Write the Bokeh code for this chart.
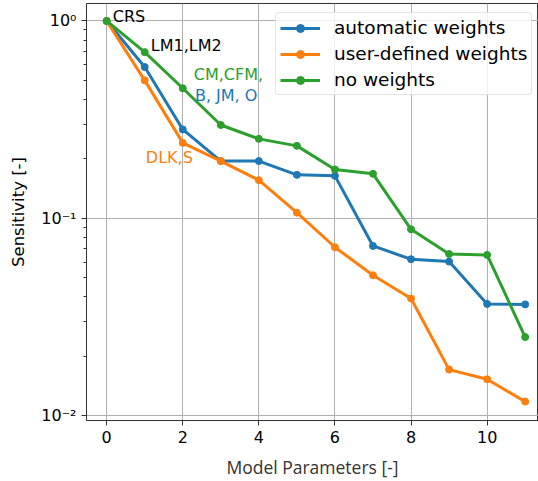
from bokeh.plotting import figure
from bokeh.models import Range1d, LogTicker, FixedTicker, CustomJSTickFormatter, Legend, LegendItem
from bokeh.embed import file_html
from bokeh.resources import INLINE
from bokeh.core.properties import value

params = list(range(12))
automatic = [1.0, 0.584, 0.282, 0.195, 0.195, 0.166, 0.164, 0.0724, 0.062, 0.0603, 0.0368, 0.0366]
user_defined = [1.0, 0.50, 0.241, 0.195, 0.156, 0.1067, 0.0713, 0.0514, 0.0392, 0.0171, 0.01527, 0.01177]
no_weights = [1.0, 0.695, 0.456, 0.297, 0.2526, 0.2328, 0.1768, 0.168, 0.0879, 0.0659, 0.0652, 0.025]

series_names = ["automatic weights", "user-defined weights", "no weights"]
series_colors = ["#1f77b4", "#ff7f0e", "#2ca02c"]

annot_text = ["CRS", "LM1,LM2", "CM,CFM,", "B, JM, O", "DLK,S"]
annot_x = [0.16, 1.16, 2.29, 2.32, 1.03]
annot_y = [1.054, 0.752, 0.536, 0.42, 0.204]
annot_color = ["#000000", "#000000", "#2ca02c", "#1f77b4", "#ff7f0e"]

p = figure(width=538, height=481, y_axis_type="log", output_backend="svg",
           toolbar_location=None,
           x_range=Range1d(-0.53, 11.35), y_range=Range1d(0.00944, 1.226),
           min_border_left=86, min_border_right=0, min_border_top=3, min_border_bottom=60)
p.background_fill_color = "white"
p.border_fill_color = "white"
p.outline_line_color = "#333333"
p.outline_line_width = 1

p.xaxis.ticker = FixedTicker(ticks=[0, 2, 4, 6, 8, 10])
p.yaxis.ticker = LogTicker(num_minor_ticks=10)
p.yaxis.formatter = CustomJSTickFormatter(code="""
const e = Math.round(Math.log10(tick));
const sup = {'0':'\u2070','1':'\u00b9','2':'\u00b2','3':'\u00b3','-':'\u207b'};
return '10' + String(e).split('').map(c => sup[c]).join('');
""")

for ax in (p.xaxis[0], p.yaxis[0]):
    ax.axis_line_color = "#333333"
    ax.major_tick_line_color = "#333333"
    ax.minor_tick_line_color = "#333333"
    ax.major_tick_out = 5
    ax.major_tick_in = 0
    ax.minor_tick_out = 3
    ax.minor_tick_in = 0
    ax.major_label_text_font = "DejaVu Sans"
    ax.major_label_text_font_size = "16px"
    ax.major_label_text_color = "#000000"
    ax.axis_label_text_font_style = "normal"
p.xaxis.minor_tick_out = 0
p.xaxis.axis_label = "Model Parameters [-]"
p.xaxis.axis_label_text_font = "Open Sans"
p.xaxis.axis_label_text_font_size = "17.5px"
p.xaxis.axis_label_text_color = "#333333"
p.xaxis.axis_label_standoff = 9
p.yaxis.axis_label = "Sensitivity [-]"
p.yaxis.axis_label_text_font = "DejaVu Sans"
p.yaxis.axis_label_text_font_size = "16.5px"
p.yaxis.axis_label_text_color = "#000000"
p.yaxis.axis_label_standoff = 10

p.xgrid.grid_line_color = "#b0b0b0"
p.ygrid.grid_line_color = "#b0b0b0"
p.xgrid.grid_line_width = 1
p.ygrid.grid_line_width = 1

items = []
for name, vals, col in zip(series_names, [automatic, user_defined, no_weights], series_colors):
    r1 = p.line(params, vals, line_color=col, line_width=3)
    r2 = p.scatter(params, vals, size=7, fill_color=col, line_color=col)
    items.append(LegendItem(label=name, renderers=[r1, r2]))

p.text(x=annot_x, y=annot_y, text=annot_text, text_color=annot_color,
       text_font=value("DejaVu Sans"), text_font_size="16px",
       text_align="left", text_baseline="middle")

legend = Legend(items=items, location=(189, 325))
legend.label_text_font = "DejaVu Sans"
legend.label_text_font_size = "18.5px"
legend.label_text_color = "#000000"
legend.glyph_width = 40
legend.glyph_height = 20
legend.label_height = 20
legend.spacing = 5
legend.padding = 4
legend.margin = 0
legend.border_line_color = "#cccccc"
legend.border_line_width = 1
legend.border_radius = 4
legend.background_fill_alpha = 0.8
legend.label_standoff = 14
p.add_layout(legend, "center")

open("out.html", "w").write(file_html(p, INLINE))
